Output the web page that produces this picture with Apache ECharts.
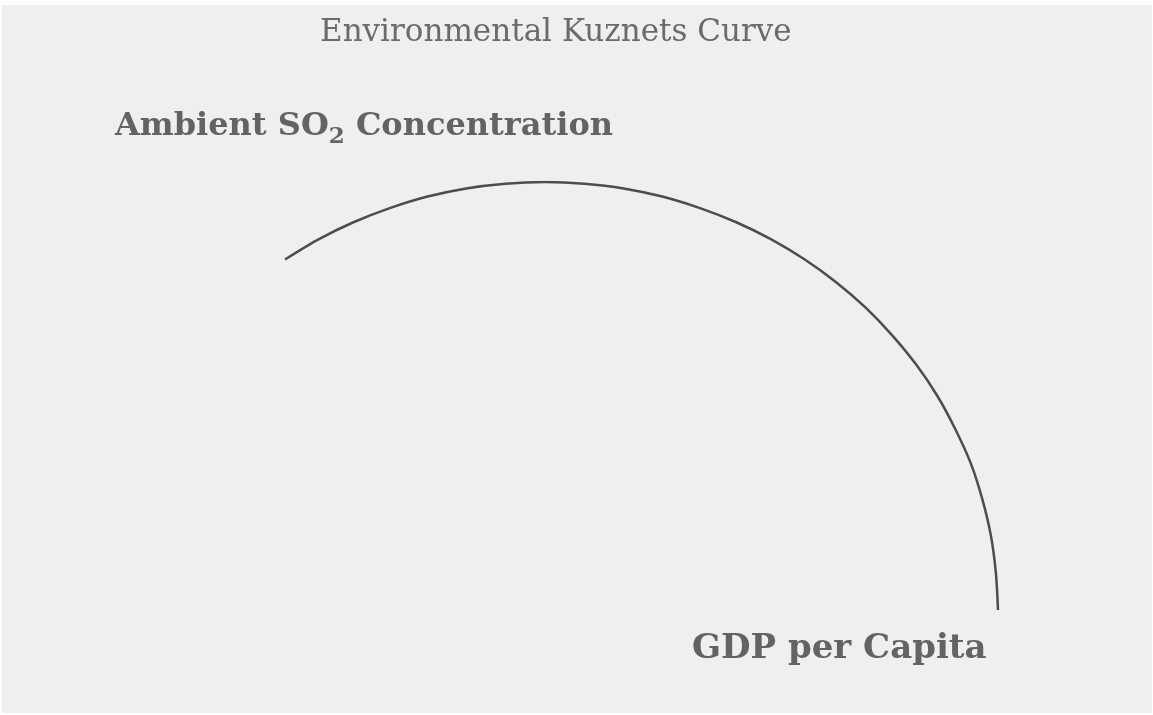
<!DOCTYPE html>
<html lang="en">
    <head>
        <meta charset="UTF-8" />
        <title>Environmental Kuznets Curve</title>
        <script src="https://cdn.jsdelivr.net/npm/echarts@6.0.0/dist/echarts.min.js"></script>
        <style>
            html, body { margin: 0; padding: 0; background: #fff; }
            #chart { width: 1153px; height: 715px; }
        </style>
    </head>
    <body>
        <div id="chart"></div>
        <script>
            // curve (arbitrary units, 0-100)
            var gdp = [0.0, 4.7, 9.6, 14.7, 20.0, 25.4, 30.9, 36.5, 42.0, 47.5, 52.9, 58.2, 63.3, 68.2, 72.9, 77.3, 81.4, 85.1, 88.5, 91.5, 94.0, 96.2, 97.8, 99.0, 99.7, 100];
            var so2 = [81.9, 86.6, 90.6, 93.9, 96.6, 98.5, 99.6, 100, 99.6, 98.5, 96.6, 93.9, 90.6, 86.6, 81.9, 76.6, 70.7, 64.3, 57.4, 50.0, 42.3, 34.2, 25.9, 17.4, 8.7, 0];

            var titleText = 'Environmental Kuznets Curve';
            var xName = 'GDP per Capita';

            var myChart = echarts.init(document.getElementById('chart'));

            var points = gdp.map(function (g, i) {
                return [g, so2[i]];
            });

            var serif = '"DejaVu Serif", "Liberation Serif", serif';
            var textGray = '#646262';

            var option = {
                backgroundColor: '#fff',
                animation: false,
                title: {
                    text: titleText,
                    left: 315,
                    top: 12,
                    textStyle: {
                        fontFamily: serif,
                        fontWeight: 'normal',
                        fontSize: 31,
                        color: '#6c6a6a'
                    }
                },
                grid: { left: 285, right: 155, top: 182, bottom: 105 },
                xAxis: { type: 'value', min: 0, max: 100, show: false },
                yAxis: { type: 'value', min: 0, max: 100, show: false },
                graphic: [
                    {
                        type: 'rect',
                        silent: true,
                        z: -10,
                        shape: { x: 2, y: 5, width: 1150, height: 708 },
                        style: { fill: '#f0eeee' }
                    },
                    {
                        type: 'text',
                        left: 115,
                        top: 111,
                        style: {
                            text: '{a|Ambient SO}{s|2}{a| Concentration}',
                            rich: {
                                a: { fontFamily: serif, fontWeight: 'bold', fontSize: 32, fill: textGray, lineHeight: 40, verticalAlign: 'top' },
                                s: { fontFamily: serif, fontWeight: 'bold', fontSize: 23, fill: textGray, padding: [15, 0, 0, 0], verticalAlign: 'top' }
                            }
                        }
                    },
                    {
                        type: 'text',
                        left: 692,
                        top: 632,
                        style: {
                            text: xName,
                            fontFamily: serif,
                            fontWeight: 'bold',
                            fontSize: 34,
                            fill: textGray
                        }
                    }
                ],
                series: [
                    {
                        type: 'line',
                        data: points,
                        smooth: 0.3,
                        showSymbol: false,
                        silent: true,
                        lineStyle: { color: '#4e4c4c', width: 2.5 }
                    }
                ]
            };

            myChart.setOption(option);
        </script>
    </body>
</html>
